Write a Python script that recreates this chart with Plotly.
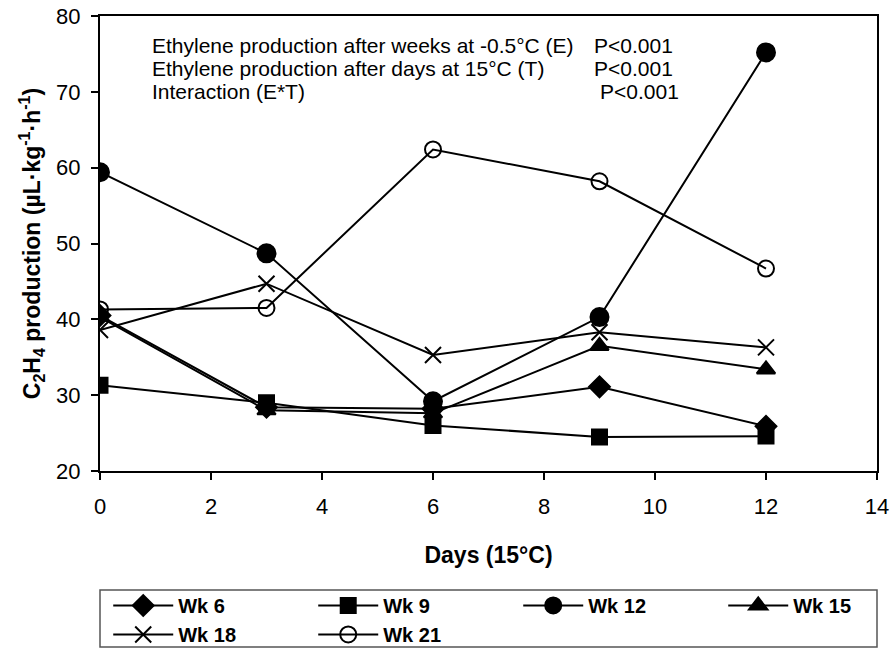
import plotly.graph_objects as go

# Days at 15 °C after removal from -0.5 °C storage
days = [0, 3, 6, 9, 12]

# Ethylene production (µL·kg⁻¹·h⁻¹) per storage week
wk6 = [40.5, 28.4, 28.2, 31.1, 25.9]
wk9 = [31.3, 29.0, 26.0, 24.5, 24.6]
wk12 = [59.4, 48.7, 29.2, 40.3, 75.2]
wk15 = [40.3, 28.0, 27.6, 36.5, 33.4]
wk18 = [38.6, 44.7, 35.3, 38.3, 36.3]
wk21 = [41.3, 41.5, 62.4, 58.2, 46.7]

series_names = ["Wk 6", "Wk 9", "Wk 12", "Wk 15", "Wk 18", "Wk 21"]
series_values = [wk6, wk9, wk12, wk15, wk18, wk21]
symbols = ["diamond", "square", "circle", "triangle-up", "x-thin-open", "circle-open"]
sizes = [16, 15, 18, 16, 16, 16]

stat_labels = [
    "Ethylene production after weeks at -0.5°C (E)",
    "Ethylene production after days at 15°C (T)",
    "Interaction (E*T)",
]
p_labels = ["P<0.001", "P<0.001", "P<0.001"]

FONT = "Liberation Sans, Arial, sans-serif"

fig = go.Figure()
for name, vals, sym, sz in zip(series_names, series_values, symbols, sizes):
    fig.add_trace(go.Scatter(
        x=days, y=vals, name=name, mode="lines+markers",
        line=dict(color="black", width=2),
        marker=dict(symbol=sym, size=sz, color="black",
                    line=dict(color="black", width=2)),
    ))

# Statistics block in the upper part of the plot
for i, (lab, p) in enumerate(zip(stat_labels, p_labels)):
    fig.add_annotation(x=0.064, y=0.936 - i * 0.0505, xref="paper", yref="paper",
                       text=lab, showarrow=False, xanchor="left", yanchor="middle",
                       font=dict(family=FONT, size=21, color="black"))
    fig.add_annotation(x=0.633 + (0.008 if i == 2 else 0), y=0.936 - i * 0.0505,
                       xref="paper", yref="paper",
                       text=p, showarrow=False, xanchor="left", yanchor="middle",
                       font=dict(family=FONT, size=21, color="black"))

# Frame around the legend
fig.add_shape(type="rect", xref="paper", yref="paper",
              x0=0.0, x1=1.0, y0=-0.387, y1=-0.2615,
              line=dict(color="#555", width=1.5), fillcolor="rgba(0,0,0,0)")

fig.update_layout(
    width=896, height=651,
    margin=dict(l=100, r=19, t=16, b=180, autoexpand=False),
    paper_bgcolor="white", plot_bgcolor="white",
    font=dict(family=FONT, size=22, color="black"),
    showlegend=True,
    legend=dict(
        orientation="h", xref="paper", yref="paper",
        x=-0.001, y=-0.2527, xanchor="left", yanchor="top",
        indentation=9,
        entrywidth=121, entrywidthmode="pixels", itemwidth=60,
        tracegroupgap=0, bgcolor="rgba(0,0,0,0)",
        font=dict(family=FONT, size=20, color="black", weight="bold"),
    ),
    xaxis=dict(
        range=[0, 14], tickvals=[0, 2, 4, 6, 8, 10, 12, 14],
        showline=True, linecolor="black", linewidth=2, mirror=True,
        ticks="outside", ticklen=7, tickwidth=1.5, tickcolor="black",
        ticklabelstandoff=8,
        showgrid=False, zeroline=False,
        tickfont=dict(size=22),
        title=dict(text="<b>Days (15°C)</b>", standoff=28,
                   font=dict(size=23)),
    ),
    yaxis=dict(
        range=[20, 80], tickvals=[20, 30, 40, 50, 60, 70, 80],
        showline=True, linecolor="black", linewidth=2, mirror=True,
        ticks="outside", ticklen=7, tickwidth=1.5, tickcolor="black",
        ticklabelstandoff=6,
        showgrid=False, zeroline=False,
        tickfont=dict(size=22),
        title=dict(text="<b>C<sub>2</sub>H<sub>4</sub> production (µL·kg<sup>-1</sup>·h<sup>-1</sup>)</b>",
                   standoff=9, font=dict(size=23)),
    ),
)

fig.write_html("out.html")
